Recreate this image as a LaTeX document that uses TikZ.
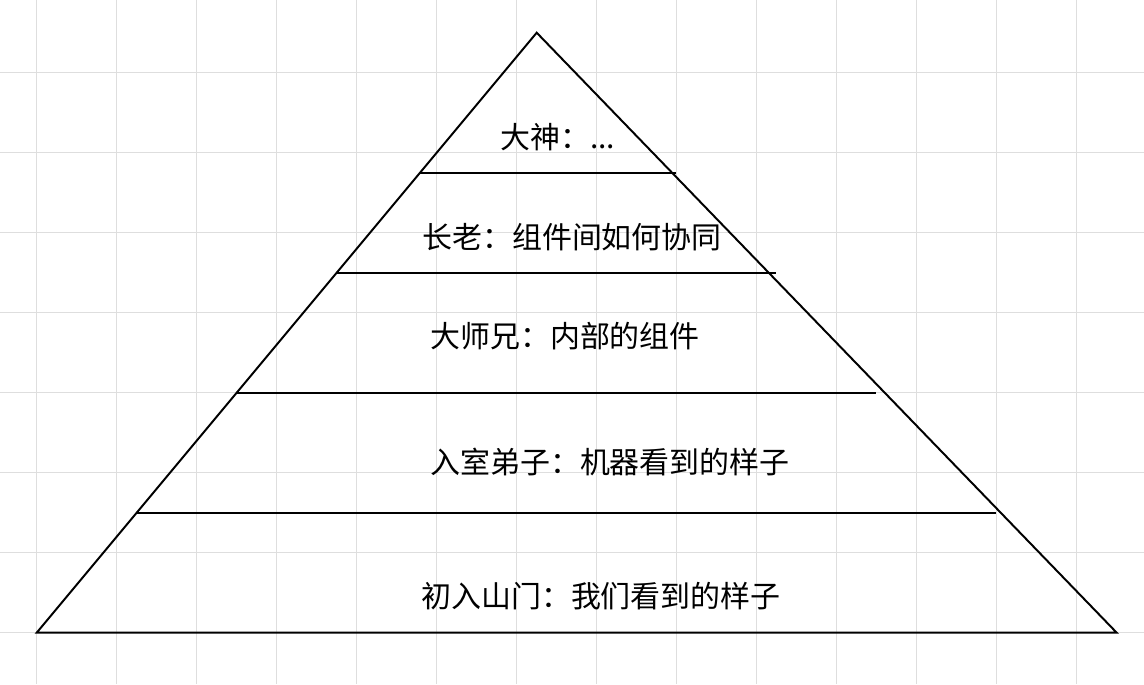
\documentclass[tikz,border=0pt]{standalone}
\usepackage{fontspec}
\setmainfont{Noto Sans CJK SC}
\usepackage{xcolor}
\usepackage{tikz}
\usetikzlibrary{positioning}

\begin{document}
\begin{tikzpicture}[
    x=0.025cm, y=-0.025cm,
    tier/.style={anchor=west, inner sep=0pt, font=\fontsize{21.3}{24}\selectfont},
    edge/.style={line width=1.4pt},
    gridline/.style={draw=black!13, line width=0.7pt}
]
\fill[white] (0,0) rectangle (1144,684);
\useasboundingbox (0,0) rectangle (1144,684);

% background grid
\foreach \gx in {36.7,116.7,...,1076.7} \draw[gridline] (\gx,0) -- (\gx,684);
\foreach \gy in {72.3,152.3,...,632.3} \draw[gridline] (0,\gy) -- (1144,\gy);

% pyramid
\coordinate (apex) at (536.7,32.7);
\coordinate (baseL) at (36.7,632.7);
\coordinate (baseR) at (1116.7,632.7);
\draw [edge] (baseL) -- (apex) -- (baseR) -- cycle;

\draw [edge] (419.3,173.3) -- (676,173.3);
\draw [edge] (336.5,273) -- (776,273);
\draw [edge] (236.5,393) -- (876,393);
\draw [edge] (136.5,513) -- (996,513);

\node (tier1) [tier] at (500,137) {大神：...};
\node (tier2) [tier] at (422,237) {长老：组件间如何协同};
\node (tier3) [tier] at (430,336) {大师兄：内部的组件};
\node (tier4) [tier] at (430,462) {入室弟子：机器看到的样子};
\node (tier5) [tier] at (421,596) {初入山门：我们看到的样子};

\end{tikzpicture}
\end{document}
